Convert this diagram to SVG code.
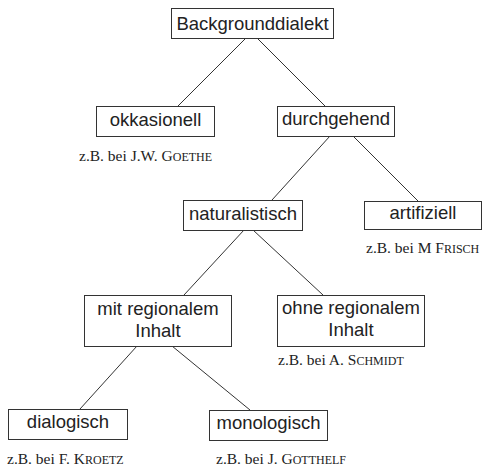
<svg xmlns="http://www.w3.org/2000/svg" width="483" height="467" viewBox="0 0 483 467">
<style>
.box{fill:#fff;stroke:#333;stroke-width:1}
.lbl{font-family:"Liberation Sans",Arial,sans-serif;font-size:18.5px;fill:#222;text-anchor:middle}
.cap{font-family:"Liberation Serif","Times New Roman",serif;font-size:15.5px;fill:#222}
.sc{font-size:12px}
.edge{stroke:#333;stroke-width:1;fill:none}
</style>
<rect width="483" height="467" fill="#fff"/>
<g id="connectors">
<line class="edge" x1="246" y1="38" x2="178" y2="106"/>
<line class="edge" x1="257" y1="38" x2="325" y2="106"/>
<line class="edge" x1="330" y1="136" x2="272" y2="200"/>
<line class="edge" x1="353" y1="136" x2="418" y2="201"/>
<line class="edge" x1="244" y1="230" x2="184" y2="295"/>
<line class="edge" x1="253" y1="230" x2="323" y2="295"/>
<line class="edge" x1="137" y1="346" x2="80" y2="409"/>
<line class="edge" x1="172" y1="346" x2="250" y2="410"/>
</g>
<g id="backgrounddialekt">
<rect class="box" x="171.5" y="8.5" width="162" height="30"/>
<text class="lbl" x="252.5" y="30">Backgrounddialekt</text>
</g>
<g id="okkasionell">
<rect class="box" x="96.5" y="106.5" width="118" height="30"/>
<text class="lbl" x="155.5" y="126">okkasionell</text>
<text class="cap" x="79" y="161">z.B. bei J.W. G<tspan class="sc">OETHE</tspan></text>
</g>
<g id="durchgehend">
<rect class="box" x="277.5" y="106.5" width="117" height="30"/>
<text class="lbl" x="336" y="125">durchgehend</text>
</g>
<g id="naturalistisch">
<rect class="box" x="183.5" y="200.5" width="119" height="30"/>
<text class="lbl" x="243" y="220">naturalistisch</text>
</g>
<g id="artifiziell">
<rect class="box" x="364.5" y="201.5" width="117" height="28"/>
<text class="lbl" x="423" y="219">artifiziell</text>
<text class="cap" x="366" y="253">z.B. bei M F<tspan class="sc">RISCH</tspan></text>
</g>
<g id="mit-regionalem-inhalt">
<rect class="box" x="84.5" y="295.5" width="147" height="51"/>
<text class="lbl" x="158" y="315">mit regionalem</text>
<text class="lbl" x="158" y="337">Inhalt</text>
</g>
<g id="ohne-regionalem-inhalt">
<rect class="box" x="277.5" y="295.5" width="147" height="51"/>
<text class="lbl" x="351" y="314">ohne regionalem</text>
<text class="lbl" x="351" y="336">Inhalt</text>
<text class="cap" x="278" y="365">z.B. bei A. S<tspan class="sc">CHMIDT</tspan></text>
</g>
<g id="dialogisch">
<rect class="box" x="8.5" y="409.5" width="119" height="30"/>
<text class="lbl" x="68" y="428">dialogisch</text>
<text class="cap" x="7" y="464">z.B. bei F. K<tspan class="sc">ROETZ</tspan></text>
</g>
<g id="monologisch">
<rect class="box" x="209.5" y="410.5" width="118" height="30"/>
<text class="lbl" x="268.5" y="429">monologisch</text>
<text class="cap" x="216" y="464">z.B. bei J. G<tspan class="sc">OTTHELF</tspan></text>
</g>
</svg>
